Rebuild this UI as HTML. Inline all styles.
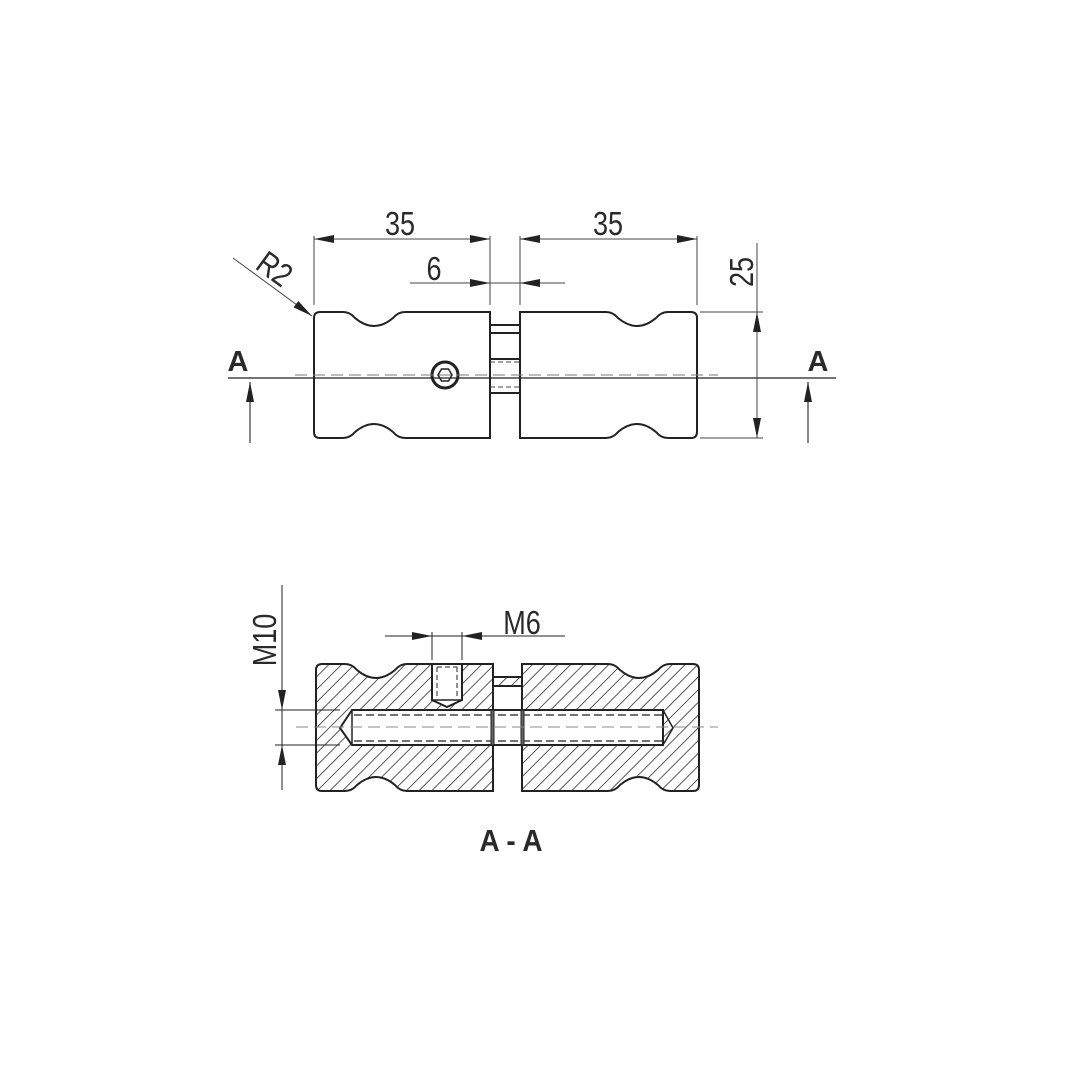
<!DOCTYPE html>
<html><head><meta charset="utf-8"><style>
html,body{margin:0;padding:0;background:#fff;}
svg{display:block;}
text{font-family:"Liberation Sans",sans-serif;fill:#2a2a2a;}
</style></head><body>
<svg width="1071" height="1071" viewBox="0 0 1071 1071" xmlns="http://www.w3.org/2000/svg">
<defs>
<pattern id="h" patternUnits="userSpaceOnUse" width="9" height="9" patternTransform="rotate(45)">
<line x1="0" y1="0" x2="0" y2="9" stroke="#222" stroke-width="1.5"/>
</pattern>
<marker id="ar" viewBox="0 0 20 8" refX="20" refY="4" markerWidth="20" markerHeight="8" markerUnits="userSpaceOnUse" orient="auto"><path d="M0,0L20,4L0,8z" fill="#222"/></marker>
</defs>
<g fill="none" stroke="#222" stroke-width="2">
<path d="M320,312 L343,312 Q350,312 355,318 Q374,334 393,318 Q398,312 405,312 L490,312 L490,438 L405,438 Q398,438 393,432 Q374,416 355,432 Q350,438 343,438 L320,438 Q314,438 314,432 L314,318 Q314,312 320,312Z"/>
<path d="M520,312 L606,312 Q613,312 618,318 Q637,334 656,318 Q661,312 668,312 L691,312 Q697,312 697,318 L697,432 Q697,438 691,438 L668,438 Q661,438 656,432 Q637,416 618,432 Q613,438 606,438 L520,438Z"/>
<line x1="490" y1="325" x2="520" y2="325"/>
<line x1="490" y1="333" x2="520" y2="333"/>
<line x1="490" y1="359" x2="520" y2="359"/>
<line x1="490" y1="393" x2="520" y2="393"/>
<circle cx="445" cy="375" r="13" stroke-width="3"/>
<polygon points="452,375 448.5,381 441.5,381 438,375 441.5,369 448.5,369" stroke-width="1.5"/>
</g>
<g stroke="#444" stroke-width="1" fill="none">
<line x1="490" y1="362" x2="520" y2="362" stroke-dasharray="5,3"/>
<line x1="490" y1="387" x2="520" y2="387" stroke-dasharray="5,3"/>
<line x1="295" y1="375" x2="718" y2="375" stroke-dasharray="12,6" stroke="#777"/>
<line x1="228" y1="378" x2="836" y2="378" stroke="#222" stroke-width="1.3"/>
<line x1="314" y1="236" x2="314" y2="305"/>
<line x1="490" y1="236" x2="490" y2="305"/>
<line x1="520" y1="236" x2="520" y2="305"/>
<line x1="697" y1="236" x2="697" y2="305"/>
<line x1="334" y1="239" x2="314" y2="239" marker-end="url(#ar)"/>
<line x1="470" y1="239" x2="490" y2="239" marker-end="url(#ar)"/>
<line x1="334" y1="239" x2="470" y2="239"/>
<line x1="540" y1="239" x2="520" y2="239" marker-end="url(#ar)"/>
<line x1="677" y1="239" x2="697" y2="239" marker-end="url(#ar)"/>
<line x1="540" y1="239" x2="677" y2="239"/>
<line x1="410" y1="283" x2="490" y2="283" marker-end="url(#ar)"/>
<line x1="565" y1="283" x2="520" y2="283" marker-end="url(#ar)"/>
<line x1="490" y1="283" x2="520" y2="283"/>
<line x1="700" y1="312" x2="763" y2="312"/>
<line x1="700" y1="438" x2="763" y2="438"/>
<line x1="757" y1="243" x2="757" y2="438"/>
<line x1="757" y1="340" x2="757" y2="312" marker-end="url(#ar)"/>
<line x1="757" y1="410" x2="757" y2="438" marker-end="url(#ar)"/>
<line x1="233" y1="258" x2="312" y2="316" marker-end="url(#ar)"/>
<line x1="250" y1="443" x2="250" y2="382" marker-end="url(#ar)" stroke-width="1.3"/>
<line x1="808" y1="443" x2="808" y2="382" marker-end="url(#ar)" stroke-width="1.3"/>
</g>
<text font-size="33" text-anchor="middle" transform="translate(400,235) scale(0.82,1)">35</text>
<text font-size="33" text-anchor="middle" transform="translate(608,235) scale(0.82,1)">35</text>
<text font-size="33" text-anchor="middle" transform="translate(434,280) scale(0.82,1)">6</text>
<text font-size="33" text-anchor="middle" transform="translate(753,272) rotate(-90) scale(0.82,1)">25</text>
<text font-size="33" text-anchor="middle" transform="translate(268,278) rotate(36) scale(0.82,1)">R2</text>
<text x="238" y="371" font-size="29" font-weight="bold" text-anchor="middle">A</text>
<text x="818" y="371" font-size="29" font-weight="bold" text-anchor="middle">A</text>

<path d="M322,664 L345,664 Q352,664 357,670 Q376,686 395,670 Q400,664 407,664 L493,664 L493,791 L407,791 Q400,791 395,785 Q376,769 357,785 Q352,791 345,791 L322,791 Q316,791 316,785 L316,670 Q316,664 322,664Z" fill="url(#h)" stroke="#222" stroke-width="2"/>
<path d="M522,664 L608,664 Q615,664 620,670 Q639,686 658,670 Q663,664 670,664 L693,664 Q699,664 699,670 L699,785 Q699,791 693,791 L670,791 Q663,791 658,785 Q639,769 620,785 Q615,791 608,791 L522,791Z" fill="url(#h)" stroke="#222" stroke-width="2"/>
<rect x="493" y="677" width="29" height="9" fill="url(#h)" stroke="#222" stroke-width="2"/>
<path d="M352,710 L663,710 L663,745 L352,745 L340,728Z" fill="#fff" stroke="#222" stroke-width="2"/>
<path d="M663,710 L673,728 L663,745" fill="none" stroke="#222" stroke-width="1.5"/>
<path d="M432,664 L462,664 L462,700 L447,707 L432,700Z" fill="#fff" stroke="#222" stroke-width="2"/>
<g stroke="#222" fill="none">
<line x1="432" y1="700" x2="462" y2="700" stroke-width="1.5"/>
<line x1="437" y1="667" x2="437" y2="698" stroke-dasharray="5,3" stroke-width="1"/>
<line x1="457" y1="667" x2="457" y2="698" stroke-dasharray="5,3" stroke-width="1"/>
<line x1="437" y1="667" x2="457" y2="667" stroke-dasharray="5,3" stroke-width="1"/>
<line x1="354" y1="715" x2="663" y2="715" stroke-dasharray="8,4" stroke-width="1.2"/>
<line x1="354" y1="741" x2="663" y2="741" stroke-dasharray="8,4" stroke-width="1.2"/>
<line x1="352" y1="710" x2="352" y2="745" stroke-width="1.5"/>
<rect x="491" y="710" width="3" height="35" fill="#666" stroke-width="1"/>
<rect x="521" y="710" width="3" height="35" fill="#666" stroke-width="1"/>
<line x1="296" y1="727" x2="718" y2="727" stroke-dasharray="12,6" stroke="#888" stroke-width="1"/>
<line x1="282" y1="585" x2="282" y2="790" stroke-width="1"/>
<line x1="282" y1="690" x2="282" y2="710" marker-end="url(#ar)" stroke-width="1"/>
<line x1="282" y1="765" x2="282" y2="745" marker-end="url(#ar)" stroke-width="1"/>
<line x1="275" y1="710" x2="340" y2="710" stroke-width="1"/>
<line x1="275" y1="745" x2="340" y2="745" stroke-width="1"/>
<line x1="385" y1="636" x2="565" y2="636" stroke-width="1"/>
<line x1="410" y1="636" x2="432" y2="636" marker-end="url(#ar)" stroke-width="1"/>
<line x1="485" y1="636" x2="462" y2="636" marker-end="url(#ar)" stroke-width="1"/>
<line x1="432" y1="632" x2="432" y2="660" stroke-width="1"/>
<line x1="462" y1="632" x2="462" y2="660" stroke-width="1"/>
</g>
<text font-size="33" text-anchor="middle" transform="translate(522,634) scale(0.82,1)">M6</text>
<text font-size="33" text-anchor="middle" transform="translate(276,640) rotate(-90) scale(0.82,1)">M10</text>
<text font-size="31" font-weight="bold" text-anchor="middle" transform="translate(511,851) scale(0.9,1)">A - A</text>
</svg>
</body></html>
